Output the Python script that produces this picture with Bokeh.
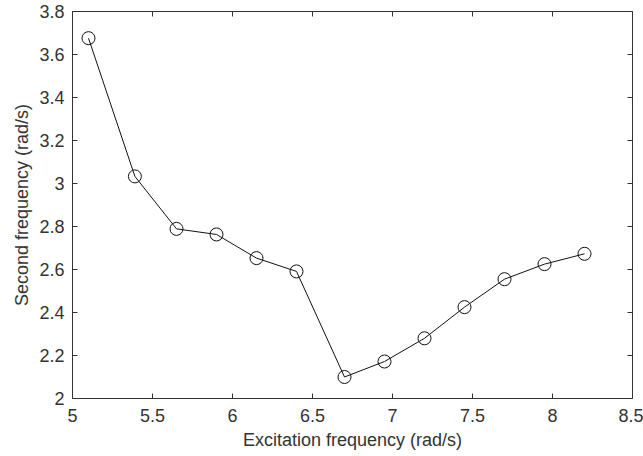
from bokeh.plotting import figure
from bokeh.models import Range1d, LinearAxis, FixedTicker, ColumnDataSource
from bokeh.embed import file_html
from bokeh.resources import INLINE

excitation = [5.1, 5.39, 5.65, 5.9, 6.15, 6.4, 6.7, 6.95, 7.2, 7.45, 7.7, 7.95, 8.2]
second_freq = [3.676, 3.033, 2.789, 2.763, 2.653, 2.591, 2.10, 2.172, 2.28, 2.425, 2.555, 2.625, 2.673]

x_ticks = [5, 5.5, 6, 6.5, 7, 7.5, 8, 8.5]
x_tick_labels = ["5", "5.5", "6", "6.5", "7", "7.5", "8", "8.5"]
y_ticks = [2, 2.2, 2.4, 2.6, 2.8, 3, 3.2, 3.4, 3.6, 3.8]
y_tick_labels = ["2", "2.2", "2.4", "2.6", "2.8", "3", "3.2", "3.4", "3.6", "3.8"]

FONT = "Liberation Sans"
TXT = "#333333"
AX = "#333333"

src = ColumnDataSource(dict(x=excitation, y=second_freq))

p = figure(width=643, height=456, output_backend="svg", toolbar_location=None,
           x_range=Range1d(5, 8.5), y_range=Range1d(2, 3.8),
           min_border_left=72, min_border_right=11, min_border_top=11, min_border_bottom=58,
           x_axis_label="Excitation frequency (rad/s)",
           y_axis_label="Second frequency (rad/s)")
p.background_fill_color = "white"
p.border_fill_color = "white"
p.outline_line_color = None
p.xgrid.visible = False
p.ygrid.visible = False

p.line("x", "y", source=src, line_color="#111111", line_width=1)
p.scatter("x", "y", source=src, marker="circle", size=13, fill_color=None,
          line_color="#111111", line_width=1)

def style_axis(ax, ticks, labels, show_labels=True):
    ax.ticker = FixedTicker(ticks=ticks)
    ax.major_label_overrides = {t: l for t, l in zip(ticks, labels)}
    ax.major_tick_in = 5
    ax.major_tick_out = 0
    ax.minor_tick_in = 0
    ax.minor_tick_out = 0
    ax.axis_line_color = AX
    ax.axis_line_width = 1
    ax.major_tick_line_color = AX
    ax.major_tick_line_width = 1
    if show_labels:
        ax.major_label_text_font = FONT
        ax.major_label_text_font_size = "18px"
        ax.major_label_text_color = TXT
        ax.axis_label_text_font = FONT
        ax.axis_label_text_font_size = "18px"
        ax.axis_label_text_font_style = "normal"
        ax.axis_label_text_color = TXT
    else:
        ax.major_label_text_font_size = "0px"
        ax.major_label_standoff = 0
        ax.major_label_text_color = None

style_axis(p.xaxis[0], x_ticks, x_tick_labels)
p.xaxis[0].major_label_standoff = 10
p.xaxis[0].axis_label_standoff = 5
style_axis(p.yaxis[0], y_ticks, y_tick_labels)
p.yaxis[0].major_label_standoff = 8
p.yaxis[0].axis_label_standoff = 4

top = LinearAxis()
style_axis(top, x_ticks, x_tick_labels, show_labels=False)
p.add_layout(top, "above")
right = LinearAxis()
style_axis(right, y_ticks, y_tick_labels, show_labels=False)
p.add_layout(right, "right")

open("out.html", "w").write(file_html(p, INLINE))
